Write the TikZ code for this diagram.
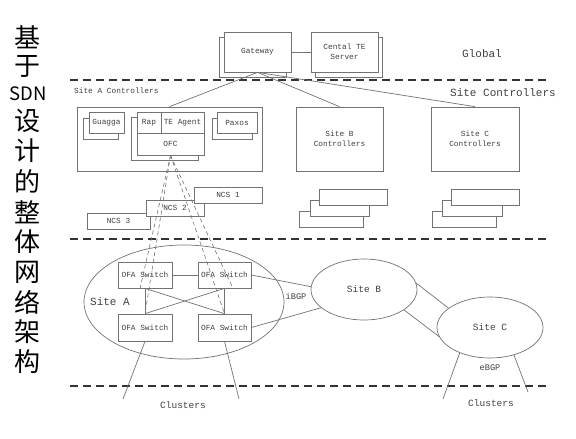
\documentclass[tikz,border=0pt]{standalone}
\usepackage{fontspec}
\setmonofont{Liberation Mono}
\newfontfamily\cjk{Noto Sans CJK SC}
\usetikzlibrary{shapes.geometric,calc}
\definecolor{linegray}{HTML}{737373}
\definecolor{txtgray}{HTML}{404040}
\definecolor{dashgray}{HTML}{333333}
\begin{document}
\begin{tikzpicture}[x=1pt,y=-1pt,
  ln/.style={draw=linegray, line width=0.7pt},
  box/.style={draw=linegray, line width=0.7pt, fill=white, rectangle, inner sep=0pt,
    text=txtgray, font=\ttfamily\fontsize{7.8}{10}\selectfont, align=center},
  lbl/.style={text=txtgray, inner sep=0pt, font=\ttfamily\fontsize{7.8}{10}\selectfont},
  biglbl/.style={text=txtgray, inner sep=0pt, font=\ttfamily\fontsize{11}{13}\selectfont},
  midlbl/.style={text=txtgray, inner sep=0pt, font=\ttfamily\fontsize{9.5}{12}\selectfont},
  sep/.style={draw=dashgray, line width=1.4pt, dash pattern=on 8pt off 5pt},
  ctl/.style={draw=linegray, line width=0.6pt, dash pattern=on 4pt off 3pt},
  site/.style={ellipse, draw=linegray, line width=0.7pt, fill=white, inner sep=0pt,
    text=txtgray, font=\ttfamily\fontsize{9.5}{12}\selectfont},
  cjkch/.style={text=black, inner sep=0pt, font=\cjk\fontsize{26}{26}\selectfont},
]
\useasboundingbox[fill=white] (0,0) rectangle (576,439);

% ---- left vertical title ----
\node[cjkch] (t1) at (28,37) {基};
\node[cjkch] (t2) at (28,66) {于};
\node[text=black, inner sep=0pt, font=\cjk\fontsize{18.5}{18.5}\selectfont] (t3) at (28,94) {SDN};
\node[cjkch] (t4) at (28,121) {设};
\node[cjkch] (t5) at (28,151) {计};
\node[cjkch] (t6) at (28,181) {的};
\node[cjkch] (t7) at (28,212) {整};
\node[cjkch] (t8) at (28,242) {体};
\node[cjkch] (t9) at (28,272) {网};
\node[cjkch] (t10) at (28,302) {络};
\node[cjkch] (t11) at (28,332) {架};
\node[cjkch] (t12) at (28,362) {构};

% ---- separators ----
\coordinate (s1l) at (70,80);  \coordinate (s1r) at (547,80);
\coordinate (s2l) at (70,239); \coordinate (s2r) at (547,239);
\coordinate (s3l) at (70,386); \coordinate (s3r) at (547,386);
\draw[sep] (s1l) -- (s1r);
\draw[sep] (s2l) -- (s2r);
\draw[sep] (s3l) -- (s3r);

\node[biglbl] (global) at (482,54) {Global};
\node[biglbl] (sitectl) at (503,93) {Site Controllers};
\node[lbl, anchor=west] (sactl) at (74,91) {Site A Controllers};

% ---- global ----
\node[box, minimum width=67pt, minimum height=40pt] (gwb) at (252.5,57) {};
\node[box, minimum width=67pt, minimum height=40pt] (gw) at (257.5,52) {Gateway};
\node[box, minimum width=67pt, minimum height=40pt] (teb) at (348.5,57) {};
\node[box, minimum width=67pt, minimum height=40pt] (te) at (344.5,52) {Cental TE\\Server};
\draw[ln] (gw.east) -- (te.west);

% ---- site controllers ----
\node[box, minimum width=185pt, minimum height=64pt] (sa) at (169.5,139) {};
\node[box, minimum width=87pt, minimum height=64pt] (sb) at (339.5,139) {Site B\\Controllers};
\node[box, minimum width=88pt, minimum height=64pt] (sc) at (475,139) {Site C\\Controllers};
\draw[ln] (gw.south) -- (sa.north);
\draw[ln] (gw.south) -- (sb.north);
\draw[ln] (gw.south) -- (sc.north);

\node[box, minimum width=35pt, minimum height=21pt] (guab) at (100.5,128.5) {};
\node[box, minimum width=35pt, minimum height=21pt] (gua) at (106.5,122.5) {Guagga};
\node[box, minimum width=67pt, minimum height=43pt] (ofcb) at (164.5,138.5) {};
\node[box, minimum width=24pt, minimum height=21pt] (rap) at (149,122.5) {Rap};
\node[box, minimum width=43pt, minimum height=21pt] (tea) at (182.5,122.5) {TE Agent};
\node[box, minimum width=67pt, minimum height=22pt] (ofc) at (170.5,144) {OFC};
\node[box, minimum width=40pt, minimum height=21pt] (paxb) at (232,128.5) {};
\node[box, minimum width=40pt, minimum height=21pt] (pax) at (237,122.5) {Paxos};

% stacks
\node[box, minimum width=64pt, minimum height=16pt] (bs3) at (331,219) {};
\node[box, minimum width=59pt, minimum height=16pt] (bs2) at (339.5,208) {};
\node[box, minimum width=68pt, minimum height=16pt] (bs1) at (353,197) {};
\node[box, minimum width=64pt, minimum height=16pt] (cs3) at (464,219) {};
\node[box, minimum width=60pt, minimum height=16pt] (cs2) at (472,208) {};
\node[box, minimum width=68pt, minimum height=16pt] (cs1) at (485,197) {};

\node[box, minimum width=63pt, minimum height=16pt] (ncs3) at (118.5,221) {NCS 3};
\node[box, minimum width=58pt, minimum height=16pt] (ncs2) at (175,208) {NCS 2};
\node[box, minimum width=68pt, minimum height=16pt] (ncs1) at (228,195) {NCS 1};

% ---- sites ----
\node[site, minimum width=200pt, minimum height=114pt] (siteA) at (184,302) {};
\node[text=txtgray, inner sep=0pt, font=\ttfamily\fontsize{11}{13}\selectfont] (siteAl) at (110,302) {Site A};
\node[site, minimum width=106pt, minimum height=61pt] (siteB) at (364,289.5) {Site B};
\node[site, minimum width=106pt, minimum height=61pt] (siteC) at (490,327.5) {Site C};

\node[box, minimum width=54pt, minimum height=26pt] (tl) at (145,275) {OFA Switch};
\node[box, minimum width=53pt, minimum height=26pt] (tr) at (224.5,275) {OFA Switch};
\node[box, minimum width=54pt, minimum height=27pt] (bl) at (145,327.5) {OFA Switch};
\node[box, minimum width=53pt, minimum height=27pt] (br) at (224.5,327.5) {OFA Switch};

\draw[ln] (tl.east) -- (tr.west);
\draw[ln] (tl.south) -- (bl.north);
\draw[ln] (tr.south) -- (br.north);
\draw[ln] (tl.south) -- (br.north);
\draw[ln] (tr.south) -- (bl.north);

\draw[ln] (tr.east) -- (siteB.177);
\draw[ln] (br.east) -- (siteB.203);
\node[lbl, font=\ttfamily\fontsize{8.6}{10}\selectfont] (ibgp) at (296,296) {iBGP};
\draw[ln] (siteB.7) -- (siteC.155);
\draw[ln] (siteB.333) -- (siteC.190.5);

% clusters
\coordinate (cl1) at (123,399);
\coordinate (cl2) at (239,399);
\coordinate (cl3) at (443,399);
\coordinate (cl4) at (528,392);
\draw[ln] (bl.south) -- (cl1);
\draw[ln] (br.south) -- (cl2);
\draw[ln] (siteC.220) -- (cl3);
\draw[ln] (siteC.311) -- (cl4);
\node[midlbl] (clA) at (183,405) {Clusters};
\node[midlbl] (clC) at (491,403) {Clusters};
\node[lbl, font=\ttfamily\fontsize{8.6}{10}\selectfont] (ebgp) at (490,368) {eBGP};

% control channels
\draw[ctl] (ofc.south) -- ($(tl.south)+(-5,0)$);
\draw[ctl] (ofc.south) -- (bl.north);
\draw[ctl] (ofc.south) -- (br.north);
\draw[ctl] (ofc.south) -- ($(tr.south)+(8.5,0)$);
\end{tikzpicture}
\end{document}
